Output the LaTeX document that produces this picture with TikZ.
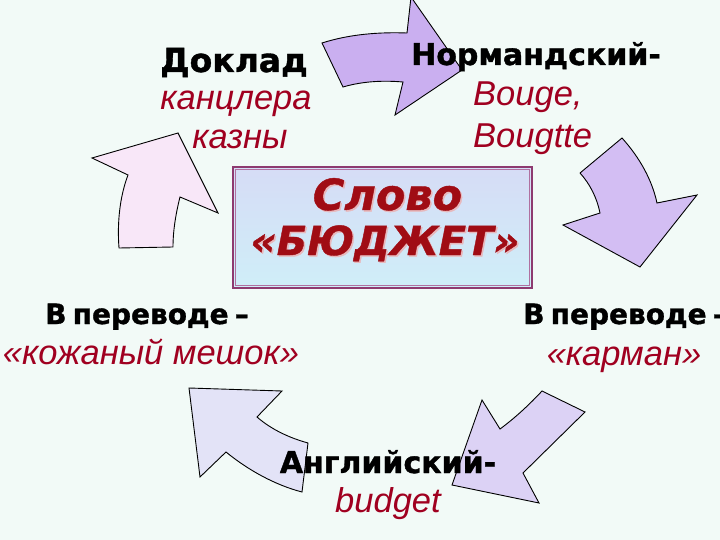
\documentclass[tikz,border=0pt]{standalone}
\usepackage{fontspec}
\setmainfont{Liberation Sans}
\newfontfamily\hdr{DejaVu Sans Bold}[FakeBold=1.2]
\newfontfamily\ttlfont{DejaVu Sans Bold Oblique}[FakeBold=1.0]
\usetikzlibrary{shadings}
\definecolor{bg}{HTML}{F2FAF7}
\definecolor{wred}{HTML}{A00020}
\definecolor{tred}{HTML}{A00C14}
\definecolor{tshadow}{HTML}{E8B8BC}
\definecolor{frameout}{HTML}{8E3A70}
\definecolor{framein}{HTML}{B070A0}
\definecolor{boxtop}{HTML}{D6DCF6}
\definecolor{boxbot}{HTML}{CFEEF8}
\definecolor{arA}{HTML}{CAAFF0}
\definecolor{arB}{HTML}{D3BEF3}
\definecolor{arC}{HTML}{DCD2F5}
\definecolor{arD}{HTML}{E3E3F7}
\definecolor{arE}{HTML}{F8E7F8}
\tikzset{
  arrowshape/.style={draw=black, line width=0.9pt, line join=miter},
  blacktxt/.style={font=\hdr\fontsize{30}{32}\selectfont, text=black, inner sep=0pt},
  redtxt/.style={font=\itshape\fontsize{34.5}{36}\selectfont, text=wred, inner sep=0pt},
  titletxt/.style={font=\ttlfont\fontsize{40}{44}\selectfont, inner sep=0pt},
  titlebig/.style={font=\ttlfont\fontsize{43}{46}\selectfont, inner sep=0pt},
}
\begin{document}
\begin{tikzpicture}[x=1pt,y=-1pt]
\useasboundingbox (0,0) rectangle (720,540);
\fill[bg] (0,0) rectangle (720,540);

% top arrow (pointing right)
\draw[arrowshape, fill=arA] (322,43) .. controls (350,34) and (380,32) .. (407,33)
  -- (411,-3) -- (462,70) -- (395,115) -- (403,82)
  .. controls (380,80) and (360,82) .. (343,87) -- cycle;
% right arrow (pointing down)
\draw[arrowshape, fill=arB] (580,173) -- (622,138)
  .. controls (640,158) and (652,180) .. (657,203)
  -- (697,195) -- (640,267) -- (563,225) -- (600,213)
  .. controls (597,198) and (590,184) .. (580,173);
% bottom-right arrow (pointing down-left)
\draw[arrowshape, fill=arC] (542,391) -- (585,412) -- (523,473) -- (539,503)
  -- (452,485) -- (482,400) -- (500,429)
  .. controls (515,418) and (530,404) .. (542,391) -- cycle;
% bottom-left arrow (pointing up-left)
\draw[arrowshape, fill=arD] (189,388) -- (282,391) -- (257,417)
  .. controls (272,430) and (290,438) .. (308,443)
  -- (302,492)
  .. controls (275,485) and (248,470) .. (226,452)
  -- (200,477) -- cycle;
% top-left arrow (pointing up-right)
\draw[arrowshape, fill=arE] (92,158) -- (178,133) -- (218,213) -- (180,197)
  .. controls (176,213) and (173,230) .. (173,247)
  -- (119,248)
  .. controls (117,222) and (120,196) .. (128,175) -- cycle;

% central box
\node[draw=frameout, line width=2.2pt, inner sep=0pt, minimum width=299pt, minimum height=121pt,
      top color=boxtop, bottom color=boxbot] (box) at (382.5,227.5) {};
\draw[framein, line width=1pt] ([xshift=4pt,yshift=-4pt]box.north west) rectangle ([xshift=-4pt,yshift=4pt]box.south east);
\node[titlebig, text=tshadow, anchor=base] at (389,211.5) {Слово};
\node[titlebig, text=tred, anchor=base] (t1) at (387.5,210) {Слово};
\node[titletxt, text=tshadow, anchor=base] at (386.5,256.5) {«БЮДЖЕТ»};
\node[titletxt, text=tred, anchor=base] (t2) at (385,255) {«БЮДЖЕТ»};

% texts
\node[blacktxt, font=\hdr\fontsize{33}{35}\selectfont, anchor=base] (dok) at (234,72) {Доклад};
\node[redtxt, anchor=base] (kan) at (236,110) {канцлера};
\node[redtxt, anchor=base] (kaz) at (240,149) {казны};

\node[blacktxt, anchor=base] (nor) at (536,65) {Нормандский-};
\node[redtxt, anchor=base west] (bo1) at (473,106) {Bouge,};
\node[redtxt, anchor=base west] (bo2) at (473,148) {Bougtte};

\node[blacktxt, font=\hdr\fontsize{28}{30}\selectfont, anchor=base] (pl) at (147,324) {В\hspace{0.22em}переводе\hspace{0.22em}–};
\node[redtxt, anchor=base] (kom) at (151,364) {«кожаный мешок»};

\node[blacktxt, font=\hdr\fontsize{28}{30}\selectfont, anchor=base west] (pr) at (523,324) {В\hspace{0.22em}переводе\hspace{0.22em}–};
\node[redtxt, anchor=base] (kar) at (624,365) {«карман»};

\node[blacktxt, anchor=base] (ang) at (388,473) {Английский-};
\node[redtxt, anchor=base] (bud) at (388,512) {budget};
\end{tikzpicture}
\end{document}
